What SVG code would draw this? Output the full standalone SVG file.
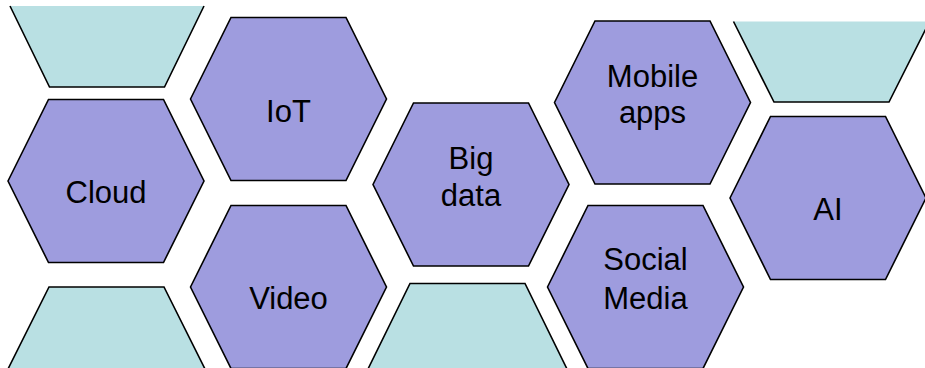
<svg xmlns="http://www.w3.org/2000/svg" width="925" height="368" viewBox="0 0 925 368">
<style>
.hex{fill:#9e9cde;stroke:#000;stroke-width:1.6;stroke-linejoin:miter}
.tealf{fill:#b9e0e3;stroke:none}
.edge{fill:none;stroke:#000;stroke-width:1.6}
.lbl{font-family:"Liberation Sans",Arial,sans-serif;font-size:31px;fill:#000;text-anchor:middle}
</style>
<defs>
<polygon id="hx" points="-98,0 -57.5,-81.5 57.5,-81.5 98,0 57.5,81.5 -57.5,81.5"/>
</defs>
<rect width="925" height="368" fill="#fff"/>
<g id="teal-top-left">
<polygon class="tealf" points="10,6 204,6 164.5,87 49.5,87"/>
<polyline class="edge" points="10,6 49.5,87 164.5,87 204,6"/>
</g>
<g id="teal-top-right">
<polygon class="tealf" points="733.5,21.5 929.5,21.5 889,102 774,102"/>
<polyline class="edge" points="733.5,21.5 774,102 889,102 929.5,21.5"/>
</g>
<g id="teal-bottom-left">
<polygon class="tealf" points="8,369 49,287 164,287 205,369"/>
<polyline class="edge" points="8,369 49,287 164,287 205,369"/>
</g>
<g id="teal-bottom-middle">
<polygon class="tealf" points="369.5,366 410,283.5 525,283.5 565.5,366 565.5,369 369.5,369"/>
<polyline class="edge" points="368,369 410,283.5 525,283.5 567,369"/>
</g>
<g id="cloud">
<use href="#hx" class="hex" transform="translate(106,181)"/>
<text class="lbl" x="106" y="203">Cloud</text>
</g>
<g id="iot">
<use href="#hx" class="hex" transform="translate(288.5,99)"/>
<text class="lbl" x="288.5" y="121.5">IoT</text>
</g>
<g id="bigdata">
<use href="#hx" class="hex" transform="translate(471,184.5)"/>
<text class="lbl" x="471" y="169">Big</text>
<text class="lbl" x="471" y="205.5">data</text>
</g>
<g id="mobile">
<use href="#hx" class="hex" transform="translate(652.5,102.5)"/>
<text class="lbl" x="652.5" y="87">Mobile</text>
<text class="lbl" x="652.5" y="123">apps</text>
</g>
<g id="ai">
<use href="#hx" class="hex" transform="translate(828,198)"/>
<text class="lbl" x="828" y="220">AI</text>
</g>
<g id="video">
<use href="#hx" class="hex" transform="translate(288.5,287)"/>
<text class="lbl" x="288.5" y="309">Video</text>
</g>
<g id="social">
<use href="#hx" class="hex" transform="translate(645.5,287)"/>
<text class="lbl" x="645.5" y="270">Social</text>
<text class="lbl" x="645.5" y="309">Media</text>
</g>
<g id="connectors"/>
</svg>
